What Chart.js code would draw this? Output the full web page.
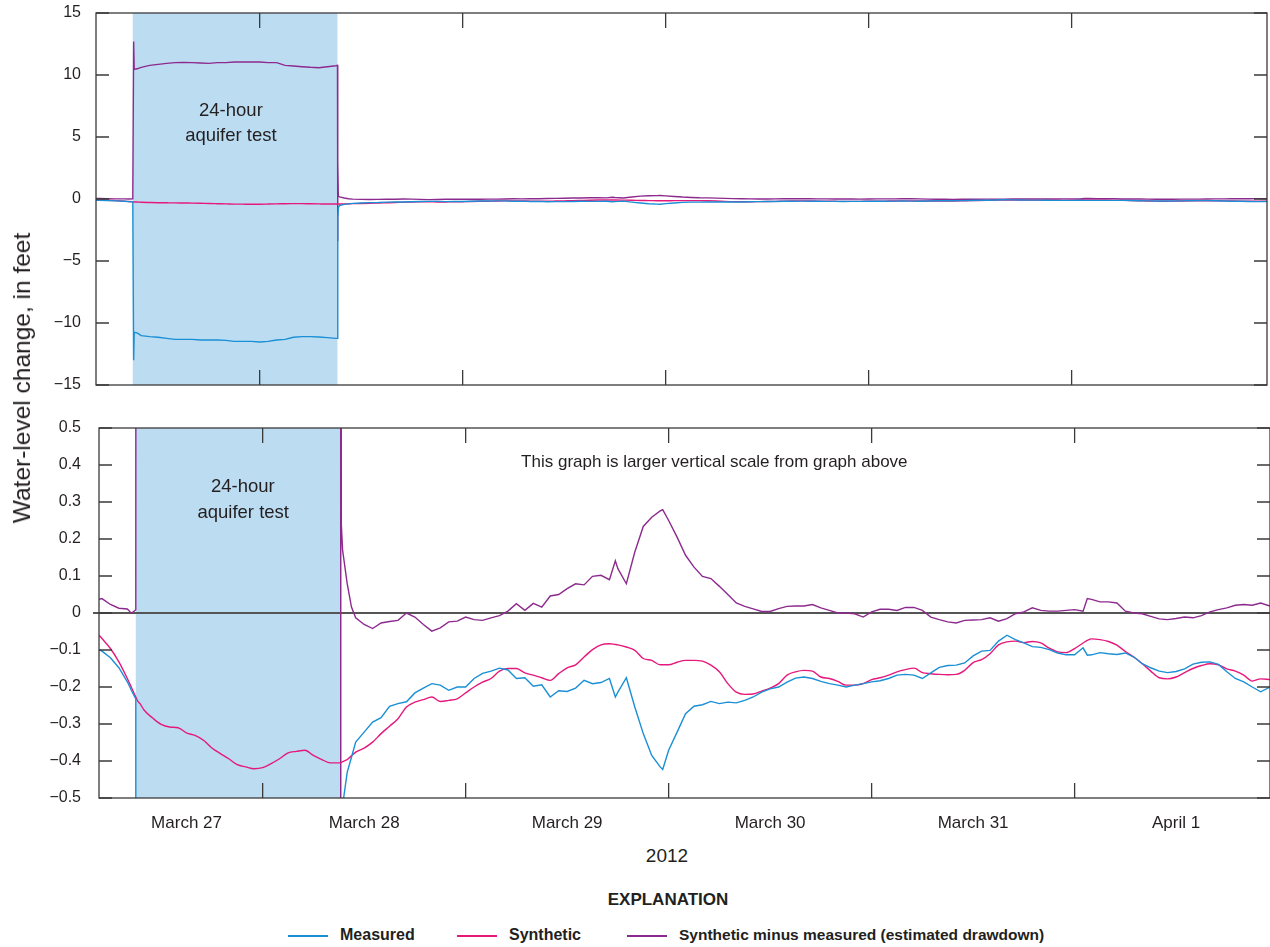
<!DOCTYPE html>
<html>
<head>
<meta charset="utf-8">
<script src="https://cdn.jsdelivr.net/npm/chart.js@4.4.1/dist/chart.umd.min.js"></script>
<style>
  body { margin: 0; background: #fff; }
  #page { position: relative; width: 1270px; height: 947px; overflow: hidden;
          font-family: "Liberation Sans", Arial, sans-serif; color: #231f20; }
  .wrap { position: absolute; left: 0; width: 1270px; }
  #topWrap { top: 0; height: 400px; }
  #botWrap { top: 400px; height: 440px; }
  .ytitle { position: absolute; left: 22px; top: 378px; transform: translate(-50%, -50%) rotate(-90deg);
            font-size: 24.5px; white-space: nowrap; }
  .xtitle { position: absolute; left: 667px; top: 856px; transform: translate(-50%, -50%); font-size: 19px; }
  .expl { position: absolute; left: 668px; top: 900px; transform: translate(-50%, -50%);
          font-size: 17px; font-weight: bold; }
  .item { position: absolute; top: 935px; transform: translateY(-50%); font-size: 16px; font-weight: bold;
          white-space: nowrap; }
  .item span { display: inline-block; width: 40px; height: 1.5px; vertical-align: middle; margin-right: 12px; }
</style>
</head>
<body>
<div id="page">
  <div class="wrap" id="topWrap"><canvas id="topChart" width="1270" height="400"></canvas></div>
  <div class="wrap" id="botWrap"><canvas id="botChart" width="1270" height="440"></canvas></div>
  <div class="ytitle">Water-level change, in feet</div>
  <div class="xtitle">2012</div>
  <div class="expl">EXPLANATION</div>
  <div class="item" style="left:288px"><span style="background:#1a8fd5"></span>Measured</div>
  <div class="item" style="left:457px"><span style="background:#e5197c"></span>Synthetic</div>
  <div class="item" style="left:627px;font-size:15.5px"><span style="background:#8c2a8e"></span>Synthetic minus measured (estimated drawdown)</div>
</div>
<script>
// hours after midnight, March 27 2012
const hours = [
  4.65, 5, 6, 7, 8, 8.5, 9, 9.1, 9.17, 9.5,
  10, 11, 12, 13, 14, 15, 16, 17, 18, 19,
  20, 21, 22, 23, 24, 25, 26, 27, 28, 29,
  30, 31, 32, 33, 33.2, 33.22, 33.25, 33.3, 33.45, 34, 34.5,
  35, 36, 37, 38, 39, 40, 41, 42, 43, 44,
  45, 46, 47, 48, 49, 50, 51, 52, 53, 54,
  55, 56, 57, 58, 59, 60, 61, 62, 63, 64,
  65, 65.7, 66, 67, 68, 69, 70, 71, 71.3, 72,
  73, 74, 75, 76, 77, 78, 79, 80, 81, 82,
  83, 84, 85, 86, 87, 88, 89, 90, 91, 92,
  93, 94, 95, 96, 97, 98, 99, 100, 101, 102,
  103, 104, 105, 106, 107, 108, 109, 110, 111, 112,
  113, 114, 115, 116, 117, 118, 119, 120, 121, 121.5,
  122, 123, 124, 125, 126, 127, 128, 129, 130, 131,
  132, 133, 134, 135, 136, 137, 138, 139, 140, 141, 142, 143.1
];

// water-level change, feet
const measured = [
  -0.099, -0.103, -0.121, -0.148, -0.186, -0.210, -0.232, -13.0, -10.75, -10.8,
  -11.02, -11.10, -11.15, -11.24, -11.32, -11.32, -11.32, -11.37, -11.37, -11.37,
  -11.40, -11.48, -11.48, -11.48, -11.53, -11.48, -11.37, -11.32, -11.15, -11.10,
  -11.10, -11.13, -11.18, -11.24, -11.24, -3.4, -1.5, -0.70, -0.52, -0.430, -0.390,
  -0.349, -0.322, -0.295, -0.283, -0.252, -0.245, -0.240, -0.216, -0.203, -0.191,
  -0.195, -0.209, -0.200, -0.200, -0.177, -0.163, -0.157, -0.149, -0.154, -0.177,
  -0.175, -0.198, -0.194, -0.227, -0.210, -0.212, -0.203, -0.182, -0.191, -0.188,
  -0.177, -0.227, -0.214, -0.175, -0.254, -0.326, -0.385, -0.416, -0.423, -0.371,
  -0.322, -0.272, -0.252, -0.248, -0.239, -0.245, -0.241, -0.243, -0.236, -0.227,
  -0.214, -0.205, -0.200, -0.187, -0.176, -0.173, -0.177, -0.185, -0.191, -0.195,
  -0.200, -0.195, -0.191, -0.186, -0.183, -0.177, -0.168, -0.166, -0.168, -0.177,
  -0.162, -0.147, -0.142, -0.141, -0.135, -0.116, -0.103, -0.101, -0.076, -0.060,
  -0.072, -0.081, -0.091, -0.093, -0.099, -0.108, -0.113, -0.113, -0.094, -0.114,
  -0.113, -0.107, -0.110, -0.112, -0.108, -0.119, -0.137, -0.148, -0.157, -0.161,
  -0.158, -0.151, -0.138, -0.133, -0.132, -0.139, -0.159, -0.177, -0.186, -0.200, -0.213, -0.200
];

const synthetic = [
  -0.060, -0.069, -0.096, -0.132, -0.177, -0.202, -0.227, -0.232, -0.236, -0.245,
  -0.263, -0.284, -0.301, -0.308, -0.310, -0.324, -0.331, -0.344, -0.365, -0.380,
  -0.394, -0.410, -0.416, -0.421, -0.418, -0.407, -0.394, -0.378, -0.374, -0.371,
  -0.385, -0.396, -0.405, -0.405, -0.405, -0.405, -0.404, -0.404, -0.402, -0.396, -0.386,
  -0.376, -0.365, -0.349, -0.326, -0.306, -0.286, -0.254, -0.241, -0.234, -0.227,
  -0.239, -0.236, -0.232, -0.216, -0.200, -0.187, -0.177, -0.157, -0.150, -0.150,
  -0.162, -0.168, -0.175, -0.182, -0.164, -0.148, -0.140, -0.119, -0.099, -0.086,
  -0.083, -0.085, -0.086, -0.092, -0.101, -0.123, -0.128, -0.140, -0.140, -0.140,
  -0.133, -0.128, -0.128, -0.130, -0.141, -0.159, -0.191, -0.214, -0.220, -0.219,
  -0.211, -0.203, -0.191, -0.168, -0.159, -0.155, -0.157, -0.173, -0.177, -0.185,
  -0.195, -0.195, -0.191, -0.180, -0.175, -0.168, -0.159, -0.153, -0.149, -0.161,
  -0.164, -0.166, -0.167, -0.166, -0.155, -0.134, -0.126, -0.110, -0.086, -0.078,
  -0.076, -0.080, -0.077, -0.081, -0.095, -0.105, -0.107, -0.096, -0.081, -0.074,
  -0.070, -0.072, -0.077, -0.087, -0.104, -0.119, -0.137, -0.157, -0.175, -0.178,
  -0.173, -0.161, -0.150, -0.142, -0.137, -0.140, -0.151, -0.157, -0.168, -0.184, -0.178, -0.180
];

const drawdown = [
  0.037, 0.039, 0.023, 0.013, 0.011, -0.001, 0.009, 12.7, 10.45, 10.5,
  10.62, 10.78, 10.86, 10.94, 11.00, 11.02, 11.00, 10.97, 10.94, 11.00,
  11.00, 11.05, 11.05, 11.05, 11.05, 11.00, 11.00, 10.78, 10.73, 10.67,
  10.62, 10.59, 10.67, 10.75, 10.78, -3.4, 3.0, 0.24, 0.17, 0.079, 0.016,
  -0.013, -0.031, -0.042, -0.027, -0.023, -0.020, 0.000, -0.011, -0.031, -0.049,
  -0.040, -0.024, -0.022, -0.011, -0.018, -0.020, -0.013, -0.007, 0.005, 0.025,
  0.007, 0.026, 0.016, 0.046, 0.050, 0.066, 0.079, 0.076, 0.099, 0.102,
  0.090, 0.141, 0.120, 0.079, 0.165, 0.234, 0.259, 0.276, 0.279, 0.250,
  0.205, 0.156, 0.124, 0.099, 0.093, 0.072, 0.050, 0.027, 0.018, 0.011,
  0.004, 0.004, 0.012, 0.018, 0.019, 0.019, 0.023, 0.014, 0.007, 0.000,
  0.000, -0.002, -0.011, 0.003, 0.010, 0.010, 0.007, 0.015, 0.015, 0.007,
  -0.011, -0.018, -0.024, -0.027, -0.020, -0.019, -0.018, -0.013, -0.022, -0.015,
  -0.002, 0.003, 0.014, 0.007, 0.005, 0.005, 0.007, 0.009, 0.005, 0.039,
  0.037, 0.030, 0.030, 0.027, 0.005, 0.000, -0.002, -0.009, -0.016, -0.018,
  -0.015, -0.011, -0.013, -0.007, 0.003, 0.009, 0.014, 0.021, 0.023, 0.021, 0.027, 0.019
];

const testStart = 9.0, testEnd = 33.2;
const dayBoundaries = [24, 48, 72, 96, 120];
const dayLabels = ['March 27', 'March 28', 'March 29', 'March 30', 'March 31', 'April 1'];
const dayLabelHours = [15, 36, 60, 84, 108, 132];
const topTicks = [-15, -10, -5, 0, 5, 10, 15];
const bottomTicks = [-0.5, -0.4, -0.3, -0.2, -0.1, 0, 0.1, 0.2, 0.3, 0.4, 0.5];

const TEXT = '#231f20';
const AXIS = '#3a3a3a';

function fmt(v) {
  if (v === 0) return '0';
  return (v < 0 ? '\u2212' : '') + Math.abs(v);
}

function series(vals) {
  return hours.map((h, i) => ({ x: h, y: vals[i] }));
}

// shading, zero line, frame with inward ticks, notes
const framePlugin = {
  id: 'frame',
  beforeDatasetsDraw(chart, args, opts) {
    const { ctx, chartArea: a, scales: { x, y } } = chart;
    ctx.save();
    const x0 = x.getPixelForValue(testStart), x1 = x.getPixelForValue(testEnd);
    ctx.fillStyle = '#bcdcf2';
    ctx.fillRect(x0, a.top, x1 - x0, a.bottom - a.top);
    if (opts.zeroLine) {
      const y0 = y.getPixelForValue(0);
      ctx.strokeStyle = '#555';
      ctx.lineWidth = 1.8;
      ctx.beginPath();
      ctx.moveTo(a.left - 6, y0);
      ctx.lineTo(a.right, y0);
      ctx.stroke();
    }
    ctx.restore();
  },
  afterDatasetsDraw(chart, args, opts) {
    const { ctx, chartArea: a, scales: { x, y } } = chart;
    ctx.save();
    ctx.strokeStyle = AXIS;
    ctx.lineWidth = 1.3;
    ctx.strokeRect(a.left, a.top, a.right - a.left, a.bottom - a.top);
    ctx.beginPath();
    opts.yTicks.forEach(v => {
      const py = y.getPixelForValue(v);
      ctx.moveTo(a.left, py); ctx.lineTo(a.left + 13, py);
      ctx.moveTo(a.right - 13, py); ctx.lineTo(a.right, py);
    });
    dayBoundaries.forEach(h => {
      const px = x.getPixelForValue(h);
      ctx.moveTo(px, a.top); ctx.lineTo(px, a.top + 15);
      ctx.moveTo(px, a.bottom - 15); ctx.lineTo(px, a.bottom);
    });
    ctx.stroke();
    ctx.fillStyle = TEXT;
    ctx.textAlign = 'center';
    ctx.textBaseline = 'middle';
    opts.notes.forEach(n => {
      ctx.font = n.size + 'px "Liberation Sans", Arial, sans-serif';
      ctx.fillText(n.text, x.getPixelForValue(n.x), y.getPixelForValue(n.y));
    });
    ctx.restore();
  }
};

function lineSet(label, vals, color, smooth) {
  return {
    label, data: series(vals), borderColor: color, borderWidth: 1.4,
    pointRadius: 0, clip: 0,
    cubicInterpolationMode: smooth ? 'monotone' : 'default', tension: 0
  };
}

function makeChart(id, cfg) {
  return new Chart(document.getElementById(id), {
    type: 'line',
    data: {
      datasets: [
        lineSet('Measured', measured, '#1a8fd5', false),
        lineSet('Synthetic', synthetic, '#e5197c', true),
        lineSet('Synthetic minus measured (estimated drawdown)', drawdown, '#8c2a8e', false)
      ]
    },
    options: {
      responsive: false,
      animation: false,
      events: [],
      layout: { padding: cfg.padding },
      plugins: {
        legend: { display: false },
        tooltip: { enabled: false },
        frame: { yTicks: cfg.yTicks, notes: cfg.notes, zeroLine: cfg.zeroLine }
      },
      scales: {
        x: {
          type: 'linear', min: 4.65, max: 143.1,
          display: cfg.showX,
          grid: { display: false, drawTicks: false },
          border: { display: false },
          afterFit(scale) {
            scale.height = cfg.showX ? 42 : 0;
            scale.paddingLeft = 0; scale.paddingRight = 0;
          },
          afterBuildTicks(scale) { scale.ticks = dayLabelHours.map(v => ({ value: v })); },
          ticks: {
            autoSkip: false, maxRotation: 0, padding: 15, color: TEXT,
            font: { family: '"Liberation Sans", Arial, sans-serif', size: 17 },
            callback: (v, i) => dayLabels[i]
          }
        },
        y: {
          type: 'linear', min: cfg.yTicks[0], max: cfg.yTicks[cfg.yTicks.length - 1],
          grid: { display: false, drawTicks: false },
          border: { display: false },
          afterFit(scale) {
            scale.width = cfg.axisWidth;
            scale.paddingTop = 0; scale.paddingBottom = 0;
          },
          afterBuildTicks(scale) { scale.ticks = cfg.yTicks.map(v => ({ value: v })); },
          ticks: {
            padding: cfg.tickPad, color: TEXT,
            font: { family: '"Liberation Sans", Arial, sans-serif', size: 16 },
            callback: v => fmt(v)
          }
        }
      }
    },
    plugins: [framePlugin]
  });
}

makeChart('topChart', {
  padding: { top: 13, bottom: 15, right: 3, left: 0 },
  yTicks: topTicks, axisWidth: 96, tickPad: 15, showX: false, zeroLine: false,
  notes: [
    { text: '24-hour', x: 20.6, y: 7.1, size: 18.5 },
    { text: 'aquifer test', x: 20.6, y: 5.05, size: 18.5 }
  ]
});

makeChart('botChart', {
  padding: { top: 28, bottom: 0, right: 0, left: 0 },
  yTicks: bottomTicks, axisWidth: 99, tickPad: 18, showX: true, zeroLine: true,
  notes: [
    { text: '24-hour', x: 21.65, y: 0.34, size: 18.5 },
    { text: 'aquifer test', x: 21.7, y: 0.27, size: 18.5 },
    { text: 'This graph is larger vertical scale from graph above', x: 77.4, y: 0.407, size: 17 }
  ]
});
</script>
</body>
</html>
